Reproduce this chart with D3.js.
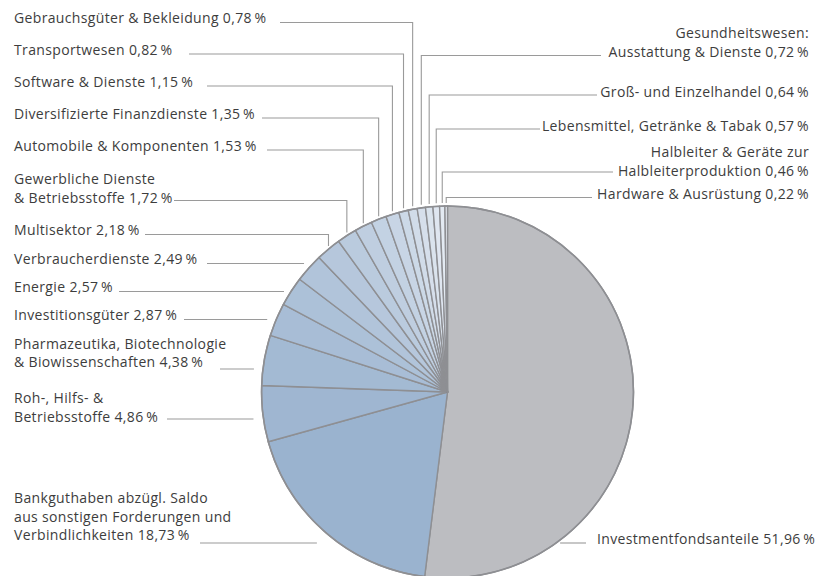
<!DOCTYPE html>
<html lang="de">
<head>
    <meta charset="UTF-8">
    <title>Branchenaufteilung</title>
    <script src="https://d3js.org/d3.v7.min.js"></script>
    <style>
        body {
            margin: 0;
            background-color: #ffffff;
        }
        svg {
            display: block;
            font-family: "Open Sans", sans-serif;
        }
    </style>
</head>
<body>

<svg class="pie" width="822" height="576"></svg>
<script>
    // sectors in clockwise order, starting at 12 o'clock
    const sectors = [
        ["Investmentfondsanteile"],
        ["Bankguthaben abzügl. Saldo", "aus sonstigen Forderungen und", "Verbindlichkeiten"],
        ["Roh-, Hilfs- &", "Betriebsstoffe"],
        ["Pharmazeutika, Biotechnologie", "& Biowissenschaften"],
        ["Investitionsgüter"],
        ["Energie"],
        ["Verbraucherdienste"],
        ["Multisektor"],
        ["Gewerbliche Dienste", "& Betriebsstoffe"],
        ["Automobile & Komponenten"],
        ["Diversifizierte Finanzdienste"],
        ["Software & Dienste"],
        ["Transportwesen"],
        ["Gebrauchsgüter & Bekleidung"],
        ["Gesundheitswesen:", "Ausstattung & Dienste"],
        ["Groß- und Einzelhandel"],
        ["Lebensmittel, Getränke & Tabak"],
        ["Halbleiter & Geräte zur", "Halbleiterproduktion"],
        ["Hardware & Ausrüstung"]
    ];
    const shares = [51.96, 18.73, 4.86, 4.38, 2.87, 2.57, 2.49, 2.18, 1.72, 1.53,
                    1.35, 1.15, 0.82, 0.78, 0.72, 0.64, 0.57, 0.46, 0.22];

    const width = 822, height = 576;
    const cx = 447.5, cy = 392, radius = 186;

    // label placement: x, first baseline, anchor, leader y, leader start, leader type
    const L = 14, R = 809;
    const layout = [
        {x: 597, y: 544, anchor: "start", ly: 543, from: 586, type: "h", gap: 4},
        {x: L, y: 503, anchor: "start", ly: 543, from: 200, type: "h", gap: 22},
        {x: L, y: 403, anchor: "start", ly: 419, from: 167, type: "h", gap: 10},
        {x: L, y: 348.5, anchor: "start", ly: 369, from: 220, type: "h", gap: 9},
        {x: L, y: 320, anchor: "start", ly: 319.5, from: 184, type: "h", gap: 9},
        {x: L, y: 292, anchor: "start", ly: 291.5, from: 119, type: "h", gap: 7},
        {x: L, y: 263.5, anchor: "start", ly: 263.5, from: 207, type: "h", gap: 9},
        {x: L, y: 235, anchor: "start", ly: 234.5, from: 145, type: "v"},
        {x: L, y: 184, anchor: "start", ly: 200.5, from: 174, type: "v"},
        {x: L, y: 151, anchor: "start", ly: 150, from: 267, type: "v"},
        {x: L, y: 119, anchor: "start", ly: 118, from: 262, type: "v"},
        {x: L, y: 87, anchor: "start", ly: 86, from: 207, type: "v"},
        {x: L, y: 55, anchor: "start", ly: 54, from: 189, type: "v"},
        {x: L, y: 23, anchor: "start", ly: 22.5, from: 280, type: "v"},
        {x: R, y: 38, anchor: "end", ly: 55.5, from: 601, type: "v"},
        {x: R, y: 97, anchor: "end", ly: 95, from: 597, type: "v"},
        {x: R, y: 131, anchor: "end", ly: 129, from: 540, type: "v"},
        {x: R, y: 157, anchor: "end", ly: 172, from: 613, type: "v"},
        {x: R, y: 199, anchor: "end", ly: 197.5, from: 592, type: "v"}
    ];

    const de = d3.formatLocale({decimal: ",", thousands: ".", grouping: [3], currency: ["", " €"]});
    const fmt = de.format(".2f");

    const blue = d3.scaleLinear()
        .domain([1, shares.length - 1])
        .range(["#9ab3cf", "#e8edf4"])
        .interpolate(d3.interpolateRgb);
    const color = i => i === 0 ? "#bcbdc1" : blue(i);

    const pie = d3.pie()
        .sort(null)
        .value(d => d)
        .startAngle(0)
        .endAngle(2 * Math.PI);

    const arcs = pie(shares);

    const arc = d3.arc()
        .innerRadius(0)
        .outerRadius(radius);

    const svg = d3.select("svg")
        .attr("viewBox", [0, 0, width, height]);

    const g = svg.append("g")
        .attr("transform", `translate(${cx},${cy})`);

    g.selectAll("path")
        .data(arcs)
        .join("path")
        .attr("d", arc)
        .attr("fill", (d, i) => color(i))
        .attr("stroke", "#8e8f93")
        .attr("stroke-width", 1.4)
        .attr("stroke-linejoin", "round");

    g.append("circle")
        .attr("r", radius)
        .attr("fill", "none")
        .attr("stroke", "#8e8f93")
        .attr("stroke-width", 1.6);

    // leader lines
    const edge = d => {
        const a = (d.startAngle + d.endAngle) / 2;
        return [cx + radius * Math.sin(a), cy - radius * Math.cos(a)];
    };

    const leader = (d, i) => {
        const p = layout[i];
        if (p.type === "v") {
            const [ex, ey] = edge(d);
            return d3.line()([[p.from, p.ly], [ex, p.ly], [ex, ey - 3]]);
        }
        const dy = p.ly - cy;
        const dx = Math.sqrt(Math.max(0, radius * radius - dy * dy));
        const side = p.x < cx ? -1 : 1;
        const end = cx + side * (dx + p.gap);
        return d3.line()([[p.from, p.ly], [end, p.ly]]);
    };

    svg.append("g")
        .attr("fill", "none")
        .attr("stroke", "#9a9a9a")
        .attr("stroke-width", 1.1)
        .selectAll("path")
        .data(arcs)
        .join("path")
        .attr("d", leader);

    const labels = svg.append("g")
        .attr("fill", "#3d3d3d")
        .style("font-size", "14px")
        .style("letter-spacing", "0.35px")
        .selectAll("text")
        .data(arcs)
        .join("text")
        .attr("text-anchor", (d, i) => layout[i].anchor)
        .attr("x", (d, i) => layout[i].x)
        .attr("y", (d, i) => layout[i].y);

    labels.each(function(d, i) {
        const lines = sectors[i].slice();
        lines[lines.length - 1] += " " + fmt(shares[i]) + "\u2009%";
        d3.select(this).selectAll("tspan")
            .data(lines)
            .join("tspan")
            .attr("x", layout[i].x)
            .attr("dy", (t, j) => j === 0 ? 0 : 18.5)
            .text(t => t);
    });
</script>
</body>
</html>
